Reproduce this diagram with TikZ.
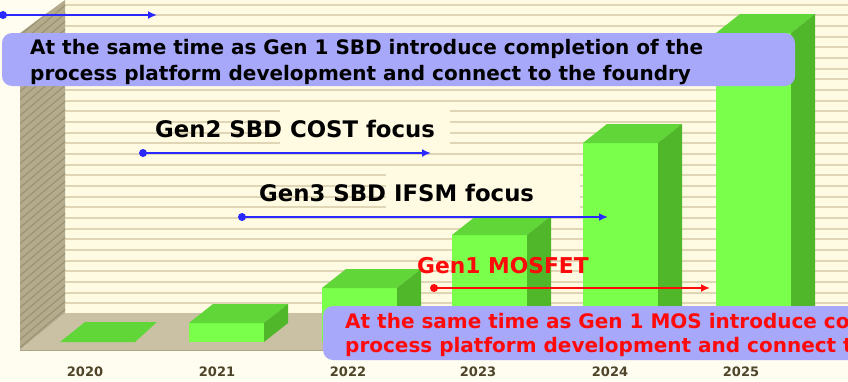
\documentclass[tikz,border=0pt]{standalone}
\usepackage{fontspec}
\setmainfont{DejaVu Sans}
\usetikzlibrary{arrows.meta}
\definecolor{bgcream}{RGB}{255,253,240}
\definecolor{wallcream}{RGB}{255,250,226}
\definecolor{stripe}{RGB}{224,214,182}
\definecolor{sidewall}{RGB}{180,170,140}
\definecolor{hatch}{RGB}{156,146,116}
\definecolor{floorc}{RGB}{202,193,165}
\definecolor{flooredge}{RGB}{172,162,132}
\definecolor{barfront}{RGB}{122,255,74}
\definecolor{bartop}{RGB}{96,214,56}
\definecolor{barside}{RGB}{80,182,42}
\definecolor{boxc}{RGB}{168,168,250}
\definecolor{arrblue}{RGB}{40,40,255}
\definecolor{arrred}{RGB}{255,10,10}
\definecolor{yearc}{RGB}{78,68,42}
\tikzset{
  txt/.style={inner sep=0pt, anchor=base west, font=\bfseries\fontsize{20}{24}\selectfont},
  lbl/.style={inner sep=0pt, anchor=base west, font=\bfseries\fontsize{22.8}{26}\selectfont},
  yr/.style={inner sep=0pt, anchor=base, text=yearc, font=\bfseries\fontsize{13}{15}\selectfont},
  dotb/.style={circle, fill=arrblue, inner sep=0pt, minimum size=8pt},
  dotr/.style={circle, fill=arrred, inner sep=0pt, minimum size=8pt},
  conb/.style={draw=arrblue, line width=2pt, -{Latex[length=9pt,width=8pt]}},
  conr/.style={draw=arrred, line width=2pt, -{Latex[length=9pt,width=8pt]}},
  callout/.style={fill=boxc, rounded corners=10pt},
}
\begin{document}
\begin{tikzpicture}[x=1pt,y=-1pt]
\clip (0,0) rectangle (848,381);
\useasboundingbox (0,0) rectangle (848,381);
\fill[bgcream] (0,0) rectangle (848,381);
% back wall
\fill[wallcream] (65,0) rectangle (848,313);
\foreach \k in {0,...,28} {
  \draw[stripe, line width=1.8pt] (65,4.6+10.67*\k) -- (848,4.6+10.67*\k);
}
% left wall
\fill[sidewall] (20,33) -- (65,0) -- (65,313) -- (20,350) -- cycle;
\begin{scope}
\clip (20,33) -- (65,0) -- (65,313) -- (20,350) -- cycle;
\foreach \k in {0,...,50} {
  \draw[hatch, line width=1.2pt] (10,-20+8*\k) -- (75,-75+8*\k);
}
\end{scope}
% floor
\fill[floorc] (20,350) -- (65,313) -- (848,313) -- (848,350) -- cycle;
\draw[flooredge, line width=1pt] (20,350) -- (848,350);
% plain label backgrounds
\fill[wallcream] (280,110) rectangle (450,145);
\fill[wallcream] (386,170) rectangle (580,209);
% bar 2020 (flat)
\fill[bartop] (60,342) -- (135,342) -- (157,322) -- (85,322) -- cycle;
% bars
\foreach \x/\t in {189/323, 322/288, 452/235, 583/143, 716/33} {
  \fill[barfront] (\x,\t) rectangle (\x+75,342);
  \fill[bartop] (\x,\t) -- (\x+24,\t-19) -- (\x+99,\t-19) -- (\x+75,\t) -- cycle;
  \fill[barside] (\x+75,\t) -- (\x+99,\t-19) -- (\x+99,323) -- (\x+75,342) -- cycle;
}
% years
\node[yr] (y20) at (85,376) {2020};
\node[yr] (y21) at (217,376) {2021};
\node[yr] (y22) at (348,376) {2022};
\node[yr] (y23) at (478,376) {2023};
\node[yr] (y24) at (610,376) {2024};
\node[yr] (y25) at (741,376) {2025};
% arrows
\node[dotb] (s1) at (3,15) {};
\coordinate (e1) at (157,15);
\draw[conb] (s1.center) -- (e1);
\node[dotb] (s2) at (143,153) {};
\coordinate (e2) at (431,153);
\draw[conb] (s2.center) -- (e2);
\node[dotb] (s3) at (242,217) {};
\coordinate (e3) at (608,217);
\draw[conb] (s3.center) -- (e3);
\node[dotr] (s4) at (434,288) {};
\coordinate (e4) at (710,288);
\draw[conr] (s4.center) -- (e4);
% labels
\node[lbl] (g2) at (155,137) {Gen2 SBD COST focus};
\node[lbl] (g3) at (259,201) {Gen3 SBD IFSM focus};
\node[lbl, text=arrred, font=\bfseries\fontsize{21.8}{24}\selectfont] (g1) at (417,273) {Gen1 MOSFET};
% top callout
\fill[callout] (2,33) rectangle (795,86);
\node[txt] (t1) at (30,54) {At the same time as Gen 1 SBD introduce completion of the};
\node[txt] (t2) at (30,80) {process platform development and connect to the foundry};
% bottom callout
\fill[callout] (323,306) rectangle (880,360);
\node[txt, text=arrred] (b1) at (345,328) {At the same time as Gen 1 MOS introduce completion of the};
\node[txt, text=arrred] (b2) at (345,352) {process platform development and connect to the foundry};
\end{tikzpicture}
\end{document}
